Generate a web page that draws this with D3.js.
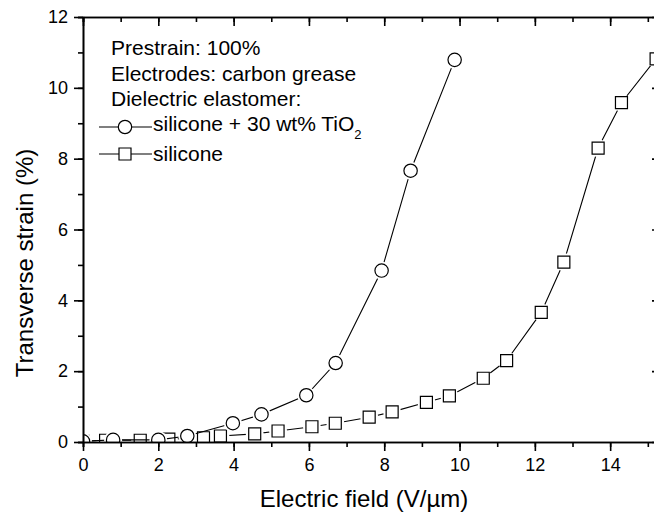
<!DOCTYPE html>
<html lang="en">
    <head>
        <meta charset="utf-8">
        <title>Transverse strain vs electric field</title>
        <script type="text/javascript" src="https://cdnjs.cloudflare.com/ajax/libs/d3/7.8.5/d3.min.js"></script>
        <style>
        body { margin: 0; background: #fff; }
        svg { display: block; font-family: "Liberation Sans", Arial, sans-serif; }
        .axis path, .axis line { stroke: #000; stroke-width: 1.6px; }
        .axis text { font-size: 18px; fill: #000; }
        .series { fill: none; stroke: #000; stroke-width: 1.1px; }
        .marker { fill: #fff; stroke: #000; stroke-width: 1.2px; }
        .halo { fill: #fff; stroke: none; }
        .legend text { font-size: 21px; fill: #000; }
        </style>
    </head>
    <body>
      <svg width="654" height="516"></svg>
      <script>
      // data
      var fieldTiO2  = [0, 0.8, 2.0, 2.77, 3.98, 4.74, 5.93, 6.71, 7.93, 8.70, 9.87];
      var strainTiO2 = [0.02, 0.06, 0.06, 0.17, 0.53, 0.78, 1.32, 2.23, 4.84, 7.66, 10.79];

      var fieldSil  = [0, 0.6, 1.52, 2.28, 3.2, 3.65, 4.56, 5.18, 6.08, 6.70, 7.60, 8.21, 9.12, 9.73, 10.63, 11.25, 12.17, 12.77, 13.68, 14.30, 15.22];
      var strainSil = [0.02, 0.05, 0.05, 0.08, 0.12, 0.17, 0.23, 0.31, 0.43, 0.53, 0.70, 0.85, 1.12, 1.30, 1.80, 2.30, 3.66, 5.08, 8.30, 9.58, 10.82];

      var xTicks = [0, 2, 4, 6, 8, 10, 12, 14];
      var yTicks = [0, 2, 4, 6, 8, 10, 12];

      var legendLines = ["Prestrain: 100%", "Electrodes: carbon grease", "Dielectric elastomer:"];

      var svg = d3.select("svg"),
          margin = {top: 17, left: 83},
          width = 578,
          height = 425;

      var x = d3.scaleLinear().domain([0, 15.35]).range([0, width]),
          y = d3.scaleLinear().domain([0, 12]).range([height, 0]);

      var g = svg.append("g")
          .attr("transform", "translate(" + margin.left + "," + margin.top + ")");

      g.append("clipPath").attr("id", "plot")
        .append("rect").attr("width", width).attr("height", height);

      var plot = g.append("g").attr("clip-path", "url(#plot)");

      function series(fx, fy, shape) {
        var pts = fx.map(function(d, i) { return [x(d), y(fy[i])]; });
        plot.append("path")
            .attr("class", "series")
            .attr("d", d3.line()(pts));
        // white ring so the line stops short of each marker
        plot.selectAll(null).data(pts).enter().append("circle")
            .attr("class", "halo")
            .attr("cx", function(d) { return d[0]; })
            .attr("cy", function(d) { return d[1]; })
            .attr("r", 9);
        var sym = d3.symbol().type(shape).size(shape === d3.symbolCircle ? 140 : 144);
        plot.selectAll(null).data(pts).enter().append("path")
            .attr("class", "marker")
            .attr("transform", function(d) { return "translate(" + d[0] + "," + d[1] + ")"; })
            .attr("d", sym);
      }

      series(fieldSil, strainSil, d3.symbolSquare);
      series(fieldTiO2, strainTiO2, d3.symbolCircle);

      // axes: labelled bottom/left with outward ticks, mirrored top/right with inward ticks
      var xMinor = d3.range(0, 16, 1), yMinor = d3.range(0, 13, 1);

      g.append("g").attr("class", "axis")
          .attr("transform", "translate(0," + height + ")")
          .call(d3.axisBottom(x).tickValues(xMinor).tickSize(5).tickFormat(""));
      g.append("g").attr("class", "axis")
          .attr("transform", "translate(0," + height + ")")
          .call(d3.axisBottom(x).tickValues(xTicks).tickSize(9).tickPadding(7).tickSizeOuter(0).tickFormat(d3.format("d")));

      g.append("g").attr("class", "axis")
          .call(d3.axisLeft(y).tickValues(yMinor).tickSize(5).tickFormat(""));
      g.append("g").attr("class", "axis")
          .call(d3.axisLeft(y).tickValues(yTicks).tickSize(9).tickPadding(6).tickSizeOuter(0).tickFormat(d3.format("d")));

      g.append("g").attr("class", "axis")
          .call(d3.axisTop(x).tickValues(xMinor).tickSize(-5).tickFormat(""));
      g.append("g").attr("class", "axis")
          .call(d3.axisTop(x).tickValues(xTicks.concat([16])).tickSize(-9).tickSizeOuter(0).tickFormat(""));

      g.append("g").attr("class", "axis")
          .attr("transform", "translate(" + width + ",0)")
          .call(d3.axisRight(y).tickValues(yMinor).tickSize(-5).tickFormat(""));
      g.append("g").attr("class", "axis")
          .attr("transform", "translate(" + width + ",0)")
          .call(d3.axisRight(y).tickValues(yTicks).tickSize(-9).tickSizeOuter(0).tickFormat(""));

      // axis titles
      g.append("text")
          .attr("x", 281)
          .attr("y", height + 65)
          .style("text-anchor", "middle")
          .style("font-size", "24px")
          .text("Electric field (V/\u00b5m)");

      g.append("text")
          .attr("transform", "rotate(-90)")
          .attr("x", -246)
          .attr("y", -50)
          .style("text-anchor", "middle")
          .style("font-size", "24px")
          .text("Transverse strain (%)");

      // legend
      var legend = svg.append("g").attr("class", "legend");

      legend.selectAll(null).data(legendLines).enter().append("text")
          .attr("x", 111)
          .attr("y", function(d, i) { return 55 + i * 25.5; })
          .text(function(d) { return d; });

      var keys = [
        {shape: d3.symbolCircle, size: 140, cy: 127, label: "silicone + 30 wt% TiO", sub: "2", base: 131},
        {shape: d3.symbolSquare, size: 144, cy: 154, label: "silicone", sub: "", base: 161}
      ];

      keys.forEach(function(k) {
        legend.append("line")
            .attr("x1", 99).attr("x2", 152)
            .attr("y1", k.cy).attr("y2", k.cy)
            .attr("stroke", "#000").attr("stroke-width", 1.1);
        legend.append("path")
            .attr("class", "marker")
            .attr("transform", "translate(125," + k.cy + ")")
            .attr("d", d3.symbol().type(k.shape).size(k.size));
        var t = legend.append("text")
            .attr("x", 153)
            .attr("y", k.base)
            .text(k.label);
        if (k.sub) {
          t.append("tspan")
              .attr("dy", 8)
              .style("font-size", "13px")
              .text(k.sub);
        }
      });
      </script>
    </body>
</html>
